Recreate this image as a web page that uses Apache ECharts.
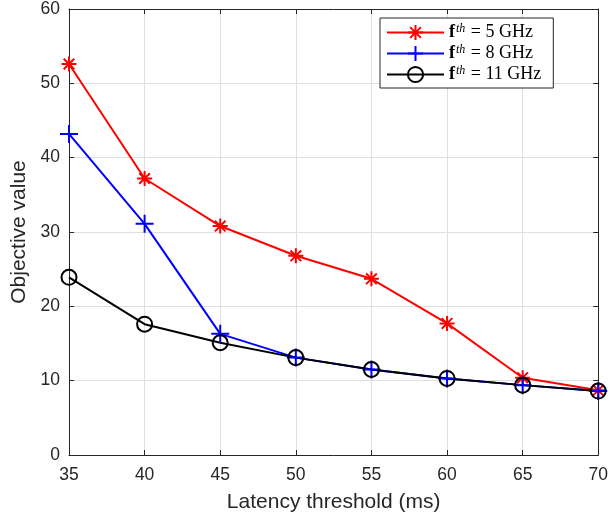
<!DOCTYPE html>
<html><head><meta charset="utf-8">
<script src="https://cdn.jsdelivr.net/npm/echarts@6/dist/echarts.min.js"></script>
<style>html,body{margin:0;padding:0;background:#fff}#c{width:611px;height:521px}</style>
</head><body><div id="c"></div>
<script>
const latency = [35, 40, 45, 50, 55, 60, 65, 70];
const obj5GHz = [52.6, 37.2, 30.8, 26.8, 23.7, 17.7, 10.4, 8.7];
const obj8GHz = [43.2, 31.1, 16.3, 13.1, 11.5, 10.3, 9.4, 8.6];
const obj11GHz = [23.9, 17.6, 15.1, 13.1, 11.5, 10.3, 9.4, 8.6];
const seriesNames = ['5 GHz', '8 GHz', '11 GHz'];
const yTicks = [0, 10, 20, 30, 40, 50, 60];

const AX = '#262626';
const asterisk = 'path://M5,0L5,10M0,5L10,5M1.46,1.46L8.54,8.54M1.46,8.54L8.54,1.46';
const plus = 'path://M5,0L5,10M0,5L10,5';
const pair = arr => latency.map((x, i) => [x, arr[i]]);

const chart = echarts.init(document.getElementById('c'), null, {renderer: 'canvas'});
const axisCommon = {
  axisLine: {show: true, onZero: false, lineStyle: {color: AX, width: 1}},
  axisTick: {show: true, inside: true, length: 5, lineStyle: {color: AX}},
};
chart.setOption({
  animation: false,
  backgroundColor: '#fff',
  grid: {left: 69, right: 12, top: 7, bottom: 66, containLabel: false},
  legend: {
    orient: 'vertical', left: 380, top: 18,
    backgroundColor: '#fff', borderColor: AX, borderWidth: 1,
    padding: [5, 12, 4, 6], itemGap: 2, itemWidth: 57, itemHeight: 19,
    data: seriesNames,
    formatter: n => '{b|f}{s|th}{t| = ' + n + '}',
    textStyle: {
      fontFamily: 'Liberation Serif', fontSize: 18, color: '#000', lineHeight: 19,
      rich: {
        b: {fontFamily: 'Liberation Serif', fontWeight: 'bold', fontSize: 18, color: '#000', lineHeight: 19},
        s: {fontFamily: 'Liberation Serif', fontStyle: 'italic', fontSize: 12, color: '#000', verticalAlign: 'top', lineHeight: 10, padding: [0, 1, 0, 1]},
        t: {fontFamily: 'Liberation Serif', fontSize: 18, color: '#000', lineHeight: 19}
      }
    }
  },
  xAxis: [{
    type: 'value', min: 35, max: 70, interval: 5, position: 'bottom',
    name: 'Latency threshold (ms)', nameLocation: 'middle', nameGap: 37,
    nameTextStyle: {fontFamily: 'Liberation Sans', fontSize: 21, color: AX},
    axisLabel: {fontFamily: 'Liberation Sans', fontSize: 17.5, color: AX, margin: 11},
    splitLine: {show: true, lineStyle: {color: '#dfdfdf', width: 1}},
    ...axisCommon
  }, {
    type: 'value', min: 35, max: 70, interval: 5, position: 'top',
    axisLabel: {show: false}, splitLine: {show: false},
    ...axisCommon
  }],
  yAxis: [{
    type: 'value', min: yTicks[0], max: yTicks[yTicks.length - 1], interval: 10, position: 'left',
    name: 'Objective value', nameLocation: 'middle', nameGap: 38,
    nameTextStyle: {fontFamily: 'Liberation Sans', fontSize: 21, color: AX},
    axisLabel: {fontFamily: 'Liberation Sans', fontSize: 17.5, color: AX, margin: 9},
    splitLine: {show: true, lineStyle: {color: '#dfdfdf', width: 1}},
    ...axisCommon
  }, {
    type: 'value', min: yTicks[0], max: yTicks[yTicks.length - 1], interval: 10, position: 'right',
    axisLabel: {show: false}, splitLine: {show: false},
    ...axisCommon
  }],
  series: [{
    name: seriesNames[0], type: 'line', data: pair(obj5GHz),
    symbol: asterisk, symbolSize: 15,
    lineStyle: {color: '#ff0000', width: 2},
    itemStyle: {color: '#ff0000', borderColor: '#ff0000', borderWidth: 2}
  }, {
    name: seriesNames[1], type: 'line', data: pair(obj8GHz),
    symbol: plus, symbolSize: 18,
    lineStyle: {color: '#0000ff', width: 2},
    itemStyle: {color: '#0000ff', borderColor: '#0000ff', borderWidth: 2}
  }, {
    name: seriesNames[2], type: 'line', data: pair(obj11GHz),
    symbol: 'circle', symbolSize: 15,
    lineStyle: {color: '#000', width: 2},
    itemStyle: {color: 'rgba(0,0,0,0)', borderColor: '#000', borderWidth: 2}
  }]
});
</script></body></html>
